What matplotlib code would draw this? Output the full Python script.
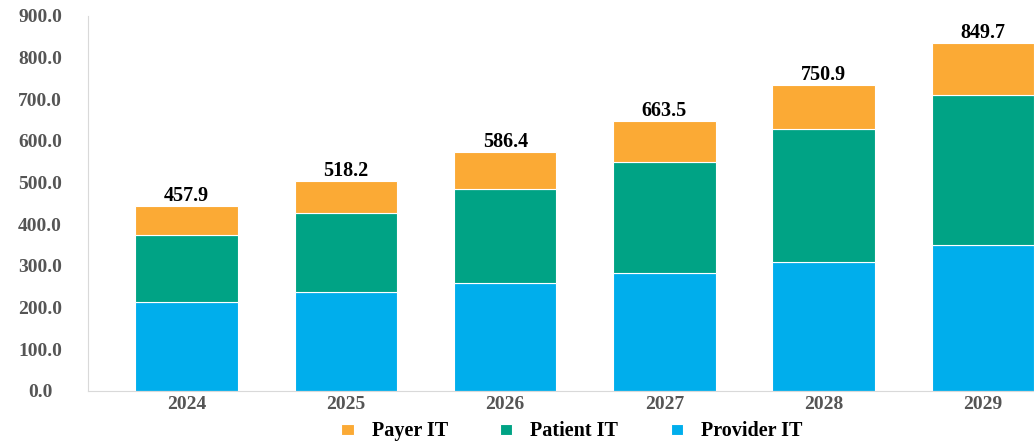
import matplotlib.pyplot as plt
import numpy as np

years = ["2024", "2025", "2026", "2027", "2028", "2029"]
provider_it = [212, 236, 259, 283, 310, 350]
patient_it = [163, 191, 226, 267, 318, 361]
payer_it = [69, 77, 88, 98, 106, 123]
totals = ["457.9", "518.2", "586.4", "663.5", "750.9", "849.7"]

col_payer = "#FBAA35"
col_patient = "#00A385"
col_provider = "#00AEEC"

plt.rcParams['font.family'] = ['Liberation Serif', 'DejaVu Serif']

fig = plt.figure(figsize=(10.34, 4.41), dpi=100)
ax = fig.add_axes([0.085, 0.114, 0.915, 0.85])

x = np.arange(len(years))
w = 0.644
prov = np.array(provider_it)
pat = np.array(patient_it)
pay = np.array(payer_it)

b1 = ax.bar(x, prov, w, color=col_provider, edgecolor="white", linewidth=0.8, label="Provider IT")
b2 = ax.bar(x, pat, w, bottom=prov, color=col_patient, edgecolor="white", linewidth=0.8, label="Patient IT")
b3 = ax.bar(x, pay, w, bottom=prov + pat, color=col_payer, edgecolor="white", linewidth=0.8, label="Payer IT")

# total labels on top of each stack
tops = prov + pat + pay
for i in range(len(years)):
    ax.annotate(totals[i], (x[i], tops[i]), xytext=(0, 0), textcoords="offset points",
                ha="center", va="bottom", fontsize=14.5, fontweight="bold", color="black",
                annotation_clip=False)

ax.set_ylim(0, 900)
ax.set_xlim(-0.62, 5.32)
ax.set_yticks(np.arange(0, 901, 100))
ax.set_yticklabels([f"{v:.1f}" for v in np.arange(0, 901, 100)])
ax.set_xticks(x)
ax.set_xticklabels(years)
ax.tick_params(axis="both", length=0, labelsize=14, labelcolor="#555555")
ax.tick_params(axis="y", pad=34.5)
ax.tick_params(axis="x", pad=4)
for lab in ax.get_yticklabels() + ax.get_xticklabels():
    lab.set_fontweight("bold")
for lab in ax.get_yticklabels():
    lab.set_horizontalalignment("center")

ax.spines["top"].set_visible(False)
ax.spines["right"].set_visible(False)
ax.spines["left"].set_color("#d9d9d9")
ax.spines["bottom"].set_color("#d9d9d9")

handles = [b3, b2, b1]
fig.legend(handles, ["Payer IT", "Patient IT", "Provider IT"], loc="center",
           bbox_to_anchor=(0.553, 0.022), ncol=3, frameon=False,
           prop={"weight": "bold", "size": 14.5}, handlelength=0.6, handleheight=0.45,
           columnspacing=2.6, handletextpad=0.9, borderpad=0)

fig.savefig("out.png", dpi=100)
